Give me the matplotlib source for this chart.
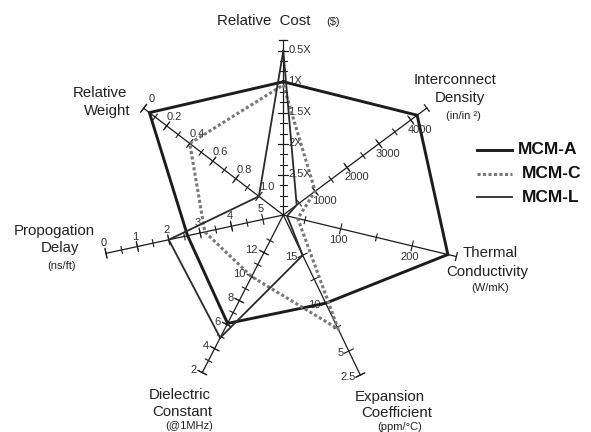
import numpy as np
import matplotlib.pyplot as plt

plt.rcParams['font.family'] = ['Liberation Sans', 'DejaVu Sans']

# order of the spokes, clockwise from the top
spokes = ["cost", "density", "thermal", "expansion", "dielectric", "delay", "weight"]

mcm_a = [1.0, 4200, 250, 10, 6.1, 2.6, 0.05]
mcm_c = [1.05, 1000, 40, 7.3, 10, 3.15, 0.4]
mcm_l = [0.5, 420, 25, 15, 4.9, 2.0, 1.0]

cost_ticks = [0.5, 1, 1.5, 2, 2.5]
cost_labels = ["0.5X", "1X", "1.5X", "2X", "2.5X"]
density_ticks = [1000, 2000, 3000, 4000]
thermal_ticks = [100, 200]
expansion_ticks = [15, 10, 5, 2.5]
dielectric_ticks = [2, 4, 6, 8, 10, 12]
delay_ticks = [0, 1, 2, 3, 4, 5]
weight_ticks = [0, 0.2, 0.4, 0.6, 0.8, 1.0]

# geometry of the hand drawn chart, in pixels (y down)
cx, cy = 283.3, 215.0
spec = {
    "cost": dict(ang=90, cal=(0.5, 164.3, 2.5, 40.0), tip=175,
                 major=cost_ticks, labels=cost_labels,
                 minor=np.arange(0.5, 3.05, 1 / 6), off=(5, -1), ha="left"),
    "density": dict(ang=36.7, cal=(0, 0, 4000, 159.0), tip=179,
                    major=density_ticks, labels=[str(t) for t in density_ticks],
                    minor=np.arange(500, 4001, 500), off=(-3, 10), ha="left"),
    "thermal": dict(ang=-13.5, cal=(100, 59.0, 200, 132.5), tip=178,
                    major=thermal_ticks, labels=[str(t) for t in thermal_ticks],
                    minor=[50, 150], off=(-2, 11), ha="center"),
    "expansion": dict(ang=-64.3, cal=(15, 44.7, 2.5, 177.6), tip=177.6,
                      major=expansion_ticks, labels=["15", "10", "5", "2.5"],
                      minor=[12.5, 7.5], off=(-5, 2), ha="right"),
    "dielectric": dict(ang=-117.2, cal=(12, 42.3, 2, 177.2), tip=177.2,
                       major=dielectric_ticks, labels=[str(t) for t in dielectric_ticks],
                       minor=range(3, 14), off=(-6, -3), ha="right"),
    "delay": dict(ang=192.2, cal=(5, 20.9, 0, 181.4), tip=181.4,
                  major=delay_ticks, labels=[str(t) for t in delay_ticks],
                  minor=np.arange(0.5, 5, 0.5), off=(-2, -10), ha="center"),
    "weight": dict(ang=142.6, cal=(0, 175.8, 1, 30.7), tip=175.8,
                   major=weight_ticks, labels=["0", "0.2", "0.4", "0.6", "0.8", "1.0"],
                   minor=np.arange(0.1, 1.0, 0.1), off=(8, -9), ha="center"),
}


def radius(s, v):
    va, ra, vb, rb = s["cal"]
    return ra + (v - va) * (rb - ra) / (vb - va)


def at(s, r):
    t = np.radians(s["ang"])
    return cx + r * np.cos(t), cy - r * np.sin(t)


def point(name, v):
    s = spec[name]
    return at(s, radius(s, v))


ink = "#1c1c1c"
fig = plt.figure(figsize=(5.91, 4.32), dpi=100)
ax = fig.add_axes([0, 0, 1, 1])
ax.set_xlim(0, 591)
ax.set_ylim(432, 0)
ax.axis("off")

# spokes, ticks and tick labels
for name in spokes:
    s = spec[name]
    t = np.radians(s["ang"])
    px, py = np.sin(t), np.cos(t)
    x1, y1 = at(s, s["tip"])
    ax.plot([cx, x1], [cy, y1], color=ink, lw=0.9, zorder=2)
    for v, L in [(v, 3.5) for v in s["minor"]] + [(v, 5) for v in s["major"]]:
        r = radius(s, v)
        if r < 5 or r > s["tip"] + 1:
            continue
        x, y = at(s, r)
        ax.plot([x - px * L, x + px * L], [y - py * L, y + py * L], color=ink, lw=0.8, zorder=2)
    for v, lab in zip(s["major"], s["labels"]):
        x, y = point(name, v)
        ax.text(x + s["off"][0], y + s["off"][1], lab, fontsize=8, color="#333",
                ha=s["ha"], va="center", zorder=3)
    # small cross at the end of each spoke
    L = 4
    ax.plot([x1 - px * L, x1 + px * L], [y1 - py * L, y1 + py * L], color=ink, lw=0.9)

# the three series
series = [(mcm_a, dict(color=ink, lw=2.1, ls="-")),
          (mcm_c, dict(color="#777", lw=2.2, ls=(0, (1, 0.8)))),
          (mcm_l, dict(color="#2a2a2a", lw=1.3, ls="-"))]
for vals, style in series:
    pts = [point(n, v) for n, v in zip(spokes, vals)]
    pts.append(pts[0])
    xs, ys = zip(*pts)
    ax.plot(xs, ys, zorder=4, solid_joinstyle="miter", **style)

# spoke titles
big, small = 10.8, 8
ax.text(264, 21, "Relative  Cost", fontsize=big, ha="center", va="center", color="#222")
ax.text(333, 22, "($)", fontsize=small, ha="center", va="center", color="#222")
ax.text(455, 80, "Interconnect", fontsize=big, ha="center", va="center", color="#222")
ax.text(460, 98, "Density", fontsize=big, ha="center", va="center", color="#222")
ax.text(463, 116, "(in/in ²)", fontsize=small, ha="center", va="center", color="#222")
ax.text(463, 253, "Thermal", fontsize=big, ha="left", va="center", color="#222")
ax.text(487, 272, "Conductivity", fontsize=big, ha="center", va="center", color="#222")
ax.text(490, 288, "(W/mK)", fontsize=small, ha="center", va="center", color="#222")
ax.text(390, 397, "Expansion", fontsize=big, ha="center", va="center", color="#222")
ax.text(397, 413, "Coefficient", fontsize=big, ha="center", va="center", color="#222")
ax.text(400, 427, "(ppm/°C)", fontsize=small, ha="center", va="center", color="#222")
ax.text(180, 395, "Dielectric", fontsize=big, ha="center", va="center", color="#222")
ax.text(182, 412, "Constant", fontsize=big, ha="center", va="center", color="#222")
ax.text(189, 426, "(@1MHz)", fontsize=small, ha="center", va="center", color="#222")
ax.text(54, 231, "Propogation", fontsize=big, ha="center", va="center", color="#222")
ax.text(60, 248, "Delay", fontsize=big, ha="center", va="center", color="#222")
ax.text(62, 266, "(ns/ft)", fontsize=small, ha="center", va="center", color="#222")
ax.text(100, 93, "Relative", fontsize=big, ha="center", va="center", color="#222")
ax.text(107, 111, "Weight", fontsize=big, ha="center", va="center", color="#222")

# legend
names = ["MCM-A", "MCM-C", "MCM-L"]
for i, (name, (vals, style)) in enumerate(zip(names, series)):
    y = 150 + i * 23.5
    ax.plot([477, 512], [y, y], **style)
    ax.text(518 + (4 if i else 0), y, name, fontsize=12.5, fontweight="bold",
            ha="left", va="center", color="#111")

fig.savefig("out.png", dpi=100)
